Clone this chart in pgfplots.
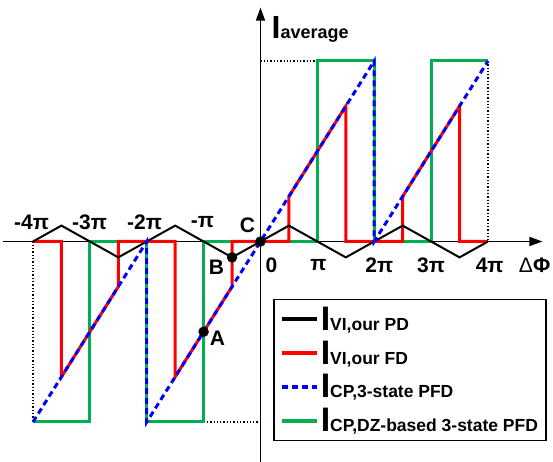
\documentclass[border=0pt]{standalone}
\usepackage{pgfplots}
\pgfplotsset{compat=1.18}
\usepackage{fontspec}
\setmainfont{Liberation Sans}
\usetikzlibrary{arrows.meta}
\definecolor{myred}{RGB}{255,0,0}
\definecolor{myblue}{RGB}{0,0,255}
\definecolor{mygreen}{RGB}{0,176,80}
\newcommand{\lbl}[1]{{\fontsize{21}{21}\selectfont\bfseries #1}}
\newcommand{\leg}[2]{{\fontsize{34}{34}\selectfont\bfseries #1}{\fontsize{17.5}{17.5}\selectfont\bfseries #2}}
\begin{document}
\begin{tikzpicture}
\begin{axis}[
  scale only axis, width=553pt, height=462pt,
  xmin=-4.58, xmax=5.143, ymin=-1.2216, ymax=1.338,
  hide axis, clip=false,
  legend style={at={(rel axis cs:0.4937,0.3528)}, anchor=north west,
    draw=black, line width=1.5pt, fill=white, row sep=5pt,
    inner xsep=6pt, inner ysep=5pt, cells={anchor=west},
    nodes={inner sep=2pt}},
  legend image code/.code={\draw[#1] (0pt,0pt) -- (35pt,0pt);},
]
% legend entries
\addlegendimage{black, line width=4pt}
\addlegendentry{\leg{I}{VI,our PD}}
\addlegendimage{myred, line width=4pt}
\addlegendentry{\leg{I}{VI,our FD}}
\addlegendimage{myblue, line width=4pt, dash pattern=on 6pt off 4pt}
\addlegendentry{\leg{I}{CP,3-state PFD}}
\addlegendimage{mygreen, line width=4pt}
\addlegendentry{\leg{I}{CP,DZ-based 3-state PFD}}

% axes
\draw[line width=1.5pt, -{Triangle[length=13pt,width=9pt]}] (axis cs:-4.536,0) -- (axis cs:4.958,0);
\draw[line width=1.5pt, -{Triangle[length=13pt,width=9pt]}] (axis cs:0,-1.2216) -- (axis cs:0,1.296);

% dotted guides
\addplot[black, line width=1.3pt, dotted, forget plot] coordinates {(-4,0) (-4,-1)};
\addplot[black, line width=1.3pt, dotted, forget plot] coordinates {(-1,-1) (0,-1)};
\addplot[black, line width=1.3pt, dotted, forget plot] coordinates {(0,1) (1,1)};
\addplot[black, line width=1.3pt, dotted, forget plot] coordinates {(4,1) (4,0)};

% green: DZ-based 3-state PFD
\addplot[mygreen, line width=3pt, forget plot] coordinates {
 (-4,-1) (-3,-1) (-3,0) (-2,0) (-2,-1) (-1,-1) (-1,0) (1,0) (1,1) (2,1) (2,0) (3,0) (3,1) (4,1)};
% red: our FD
\addplot[myred, line width=3pt, forget plot] coordinates {
 (-4,0) (-3.5,0) (-3.5,-0.75) (-2.5,-0.25) (-2.5,0) (-1.5,0) (-1.5,-0.75) (-0.5,-0.25) (-0.5,0)
 (0.5,0) (0.5,0.25) (1.5,0.75) (1.5,0) (2.5,0) (2.5,0.25) (3.5,0.75) (3.5,0) (4,0)};
% black: our PD
\addplot[black, line width=2pt, forget plot] coordinates {
 (-4,0) (-3.5,0.088) (-3,0) (-2.5,-0.088) (-2,0) (-1.5,0.088) (-1,0) (-0.5,-0.088) (0,0)
 (0.5,0.088) (1,0) (1.5,-0.088) (2,0) (2.5,0.088) (3,0) (3.5,-0.088) (4,0)};
% blue: 3-state PFD
\addplot[myblue, line width=3pt, dash pattern=on 6pt off 4pt, forget plot] coordinates {
 (-4,-1) (-2,0) (-2,-1) (2,1) (2,0) (4,1)};
% points A, B, C
\addplot[only marks, mark=*, mark size=5pt, black, forget plot] coordinates {(0,0) (-0.5,-0.088) (-1,-0.5)};

% labels
\node at (axis cs:-4.026,0.108) {\lbl{-4π}};
\node at (axis cs:-3.007,0.108) {\lbl{-3π}};
\node at (axis cs:-2.04,0.108) {\lbl{-2π}};
\node at (axis cs:-1.02,0.108) {\lbl{-π}};
\node at (axis cs:-0.229,0.089) {\lbl{C}};
\node at (axis cs:0.193,-0.133) {\lbl{0}};
\node at (axis cs:1.02,-0.133) {\lbl{π}};
\node at (axis cs:2.09,-0.133) {\lbl{2π}};
\node at (axis cs:3.0,-0.133) {\lbl{3π}};
\node at (axis cs:4.03,-0.133) {\lbl{4π}};
\node at (axis cs:4.82,-0.133) {{\fontsize{21}{21}\selectfont Δ\bfseries Φ}};
\node at (axis cs:-0.774,-0.144) {\lbl{B}};
\node at (axis cs:-0.756,-0.537) {\lbl{A}};
\node[anchor=base west, inner sep=0pt] at (axis cs:0.193,1.125) {{\fontsize{32}{32}\selectfont\bfseries I}{\fontsize{18}{18}\selectfont\bfseries average}};
\end{axis}
\pgfresetboundingbox
\path (current axis.south west) rectangle (current axis.north east);
\end{tikzpicture}
\end{document}
